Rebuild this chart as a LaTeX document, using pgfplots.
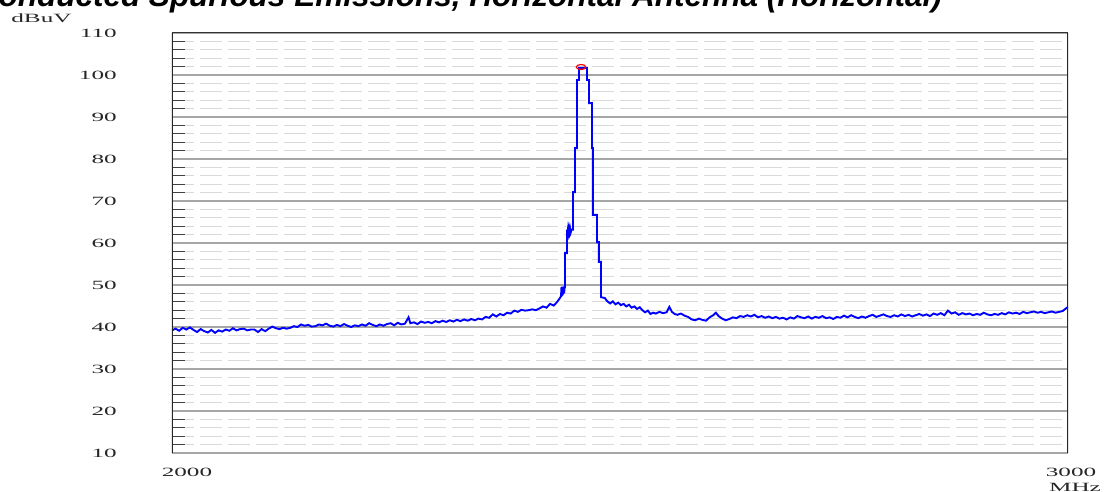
\documentclass[border=0pt]{standalone}
\usepackage{fontspec}
\usepackage{pgfplots}
\pgfplotsset{compat=1.18}
\newfontfamily\lblfont[FakeStretch=2.0]{Liberation Serif}
\newfontfamily\ttlfont{Liberation Sans}
\newcommand\lblsize{\fontsize{12.6}{14}\lblfont}
\definecolor{trace}{RGB}{0,0,255}

\begin{document}
\begin{tikzpicture}[x=1pt,y=1pt]
\useasboundingbox (-172,-39) rectangle (942,453);
\begin{scope}
\clip (-172,-39) rectangle (942,453);
\begin{axis}[
  at={(0,0)}, anchor=south west,
  scale only axis, width=896pt, height=420pt,
  xmin=2000, xmax=3000, ymin=10, ymax=110,
  axis line style={draw=none},
  xtick=\empty,
  ytick={10,20,...,110},
  minor y tick num=4,
  ytick pos=left,
  ymajorgrids, yminorgrids,
  major grid style={gray!70, line width=1.2pt},
  minor grid style={gray!30, line width=1pt, dash pattern=on 22pt off 6pt},
  major tick length=0pt,
  minor tick length=13pt,
  tick style={black!75, line width=1.2pt},
  yticklabel style={font=\lblsize, text=black!85, anchor=east, inner sep=0pt, xshift=-55pt},
  /pgf/number format/assume math mode=true,
]
% measured trace (dBuV against MHz)
\addplot[sharp plot, color=trace, line width=1.9pt, line join=miter] coordinates {
(2000,39.2) (2004,39.6) (2008,39.1) (2012,39.8) (2016,39.4) (2020,39.9) (2024,39.3) (2028,38.8)
(2032,39.5) (2036,39.0) (2040,38.7) (2044,39.3) (2048,38.6) (2052,39.2) (2056,38.9) (2060,39.4)
(2064,39.1) (2068,39.7) (2072,39.2) (2076,39.5) (2080,39.6) (2084,39.2) (2088,39.4) (2092,39.4)
(2096,38.8) (2100,39.5) (2104,39.0) (2108,39.6) (2112,40.1) (2116,39.7) (2120,39.5) (2124,39.8)
(2128,39.6) (2132,39.8) (2136,40.2) (2140,40.0) (2144,40.6) (2148,40.3) (2152,40.5) (2156,40.1)
(2160,40.2) (2164,40.6) (2168,40.4) (2172,40.8) (2176,40.3) (2180,40.1) (2184,40.5) (2188,40.2)
(2192,40.7) (2196,40.3) (2200,40.0) (2204,40.4) (2208,40.2) (2212,40.6) (2216,40.3) (2220,40.9)
(2224,40.5) (2228,40.2) (2232,40.6) (2236,40.3) (2240,40.7) (2244,40.9) (2248,40.4) (2252,41.0)
(2256,40.6) (2260,40.8) (2264,42.3) (2266,40.9) (2270,41.1) (2274,40.7) (2278,41.3) (2282,41.0)
(2286,41.2) (2290,40.9) (2294,41.4) (2298,41.1) (2302,41.5) (2306,41.2) (2310,41.6) (2314,41.3)
(2318,41.7) (2322,41.4) (2326,41.8) (2330,41.5) (2334,41.9) (2338,41.6) (2342,42.0) (2346,41.8)
(2350,42.4) (2354,42.2) (2358,43.0) (2362,42.5) (2366,43.1) (2370,42.8) (2374,43.4) (2378,43.2)
(2382,43.9) (2386,43.6) (2390,44.1) (2394,43.9) (2398,44.0) (2402,44.2) (2406,44.0) (2410,44.4)
(2414,44.9) (2418,44.6) (2422,45.5) (2426,45.1) (2430,46.0) (2432,46.6)
(2434.2,47.3) (2434.6,49.4) (2435.0,47.3) (2435.4,49.6) (2435.8,47.5) (2436.2,49.6) (2436.6,47.8)
(2437.0,49.5) (2437.6,48.0) (2438.2,49.5) (2438.6,49.5) (2438.6,57.6) (2440.8,57.6) (2440.8,63.2)
(2441.4,62.3) (2442.0,63.4) (2442.6,62.4) (2443.2,63.4) (2443.8,62.5) (2444.4,63.3) (2445.0,62.5)
(2446.0,63.2) (2447.5,63.2) (2447.5,72.1) (2449.8,72.1) (2449.8,82.6) (2452.0,82.6) (2452.0,98.8)
(2454.2,98.8) (2454.2,101.7) (2463.2,101.7) (2463.2,98.8) (2465.4,98.8) (2465.4,93.3) (2468.7,93.3)
(2468.7,82.6) (2469.8,82.6) (2469.8,66.7) (2474.3,66.7) (2474.3,60.2) (2476.5,60.2) (2476.5,55.5)
(2478.8,55.5) (2478.8,47.1) (2483,46.9)
(2485.5,46.2) (2489,45.6) (2492,46.1) (2495,45.4) (2498,45.8) (2501,45.2) (2504,45.5) (2507,44.9)
(2510,45.3) (2513,44.6) (2516,44.9) (2519,44.3) (2522,44.7) (2525,44.0) (2528,43.5) (2531,43.9)
(2534,43.1) (2537,43.4) (2540,43.2) (2544,43.6) (2548,43.3) (2552,43.5) (2555,44.8) (2558,43.6)
(2561,43.1) (2564,42.9) (2568,43.2) (2572,42.7) (2576,42.4) (2580,41.8) (2584,41.6) (2588,42.0)
(2592,41.7) (2596,41.5) (2600,42.3) (2604,42.8) (2607,43.4) (2610,42.6) (2614,42.0) (2618,41.6)
(2622,41.9) (2626,42.3) (2630,42.1) (2634,42.6) (2638,42.4) (2642,42.8) (2646,42.5) (2650,42.9)
(2654,42.3) (2658,42.6) (2662,42.2) (2666,42.5) (2670,42.1) (2674,42.4) (2678,42.0) (2682,42.2)
(2686,41.8) (2690,42.3) (2694,42.0) (2698,42.6) (2702,42.3) (2706,42.1) (2710,42.5) (2714,42.0)
(2718,42.4) (2722,42.2) (2726,42.6) (2730,42.1) (2734,42.3) (2738,41.9) (2742,42.4) (2746,42.2)
(2750,42.7) (2754,42.3) (2758,42.8) (2762,42.4) (2766,42.1) (2770,42.5) (2774,42.2) (2778,42.6)
(2782,42.9) (2786,42.4) (2790,42.7) (2794,43.0) (2798,42.6) (2802,42.4) (2806,42.8) (2810,42.5)
(2814,43.0) (2818,42.6) (2822,42.9) (2826,42.5) (2830,42.8) (2834,43.1) (2838,42.7) (2842,43.0)
(2846,42.6) (2850,43.2) (2854,42.9) (2858,43.3) (2862,42.8) (2866,43.9) (2870,43.2) (2874,43.5)
(2878,42.9) (2882,43.3) (2886,43.0) (2890,43.2) (2894,42.8) (2898,43.1) (2902,42.9) (2906,43.4)
(2910,43.0) (2914,42.8) (2918,43.1) (2922,42.9) (2926,43.3) (2930,43.0) (2934,43.5) (2938,43.2)
(2942,43.4) (2946,43.1) (2950,43.6) (2954,43.3) (2958,43.5) (2962,43.7) (2966,43.4) (2970,43.6)
(2974,43.3) (2978,43.5) (2982,43.7) (2986,43.4) (2990,43.6) (2994,43.8) (2997,44.3) (3000,44.8)
};
% peak marker
\addplot[only marks, mark=o, mark size=2.5pt,
  mark options={draw=red, line width=1.2pt, xscale=1.9}] coordinates {(2456.5,101.9)};
% frame
\draw[gray!70, line width=1.5pt] (rel axis cs:0,0) -- (rel axis cs:1,0);
\draw[black!80, line width=1pt] (rel axis cs:0,1) -- (rel axis cs:1,1);
\draw[black!85, line width=2pt] (rel axis cs:1,0) -- (rel axis cs:1,1);
\draw[black!85, line width=2.6pt] (rel axis cs:0,0) -- (rel axis cs:0,1);
\end{axis}
\node[font=\lblsize, text=black!85] at (15,-19.5) {2000};
\node[font=\lblsize, text=black!85] at (899,-19.5) {3000};
\node[font=\lblsize, text=black!85] at (903,-34) {MHz};
\node[font=\lblsize, text=black!85] at (-130.5,435) {dBuV};
\node[anchor=base east, inner sep=0pt, font=\fontsize{31.5}{36}\ttlfont\bfseries\itshape]
  at (770,446) {Conducted Spurious Emissions, Horizontal Antenna (Horizontal)};
\end{scope}
\end{tikzpicture}
\end{document}
